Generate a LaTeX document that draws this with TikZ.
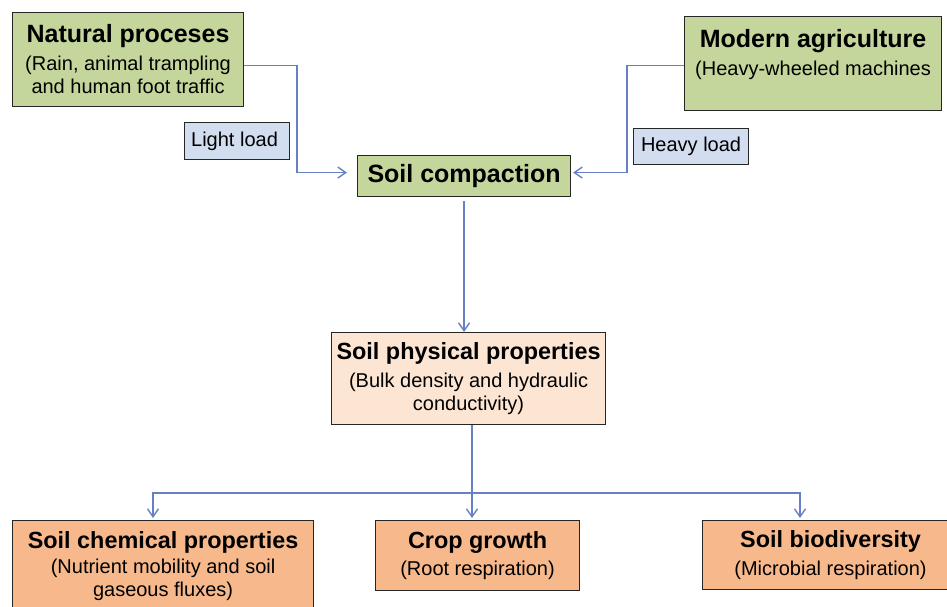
\documentclass[tikz,border=0pt]{standalone}
\usepackage{fontspec}
\setmainfont{Liberation Sans}
\usetikzlibrary{arrows.meta,positioning,calc}
\definecolor{boxgreen}{RGB}{196,214,155}
\definecolor{loadblue}{RGB}{210,221,240}
\definecolor{propbeige}{RGB}{252,229,211}
\definecolor{effectorange}{RGB}{247,185,140}
\definecolor{linkblue}{RGB}{103,128,196}
\newcommand{\hdbig}{\fontsize{25}{28}\selectfont\bfseries}
\newcommand{\hdsmall}{\fontsize{23.4}{27}\selectfont\bfseries}

\begin{document}
\begin{tikzpicture}[x=1pt, y=-1pt,
    box/.style={draw=black!85, line width=1.1pt, anchor=north west, inner sep=0pt,
        align=center, font=\fontsize{20}{22.5}\selectfont},
    cause/.style={box, fill=boxgreen},
    load/.style={box, fill=loadblue},
    prop/.style={box, fill=propbeige},
    effect/.style={box, fill=effectorange},
    connect/.style={draw=linkblue, line width=1.4pt},
    flow/.style={connect, -{Straight Barb[length=8pt, width=11pt]}}]
    \useasboundingbox (0,0) rectangle (947,606);

    % Causes
    \node[cause, minimum width=231pt, minimum height=94pt, text depth=2pt] (natural) at (12,12)
        {\hdbig Natural proceses\\[6pt] (Rain, animal trampling\\ and human foot traffic};
    \node[cause, minimum width=257pt, minimum height=94pt, text depth=22pt] (modern) at (684,16)
        {\hdbig Modern agriculture\\[6pt] (Heavy-wheeled machines};
    \node[load, minimum width=105pt, minimum height=37pt] (light) at (184,122)
        {Light load\hspace{5pt}};
    \node[load, minimum width=115pt, minimum height=36pt] (heavy) at (633,128) {Heavy load};

    % Compaction and soil properties
    \node[cause, minimum width=213pt, minimum height=41pt] (compaction) at (357,155)
        {\hdbig Soil compaction};
    \node[prop, minimum width=274pt, minimum height=92pt] (phys) at (331,332)
        {\hdsmall Soil physical properties\\[6pt] (Bulk density and hydraulic\\ conductivity)};

    % Effects
    \node[effect, minimum width=301pt, minimum height=92pt] (chem) at (12,520)
        {\hdsmall Soil chemical properties\\[2pt] (Nutrient mobility and soil\\[1pt] gaseous fluxes)};
    \node[effect, minimum width=204pt, minimum height=70pt] (crop) at (375,520)
        {\hdsmall Crop growth\\[5pt] (Root respiration)};
    \node[effect, minimum width=256pt, minimum height=69pt] (bio) at (702,520)
        {\hdsmall Soil biodiversity\\[5pt] (Microbial respiration)};

    % Arrows
    \draw[flow, shorten >=10pt] ([yshift=-6pt]natural.east) -- ++(53,0) |- ([yshift=3.5pt]compaction.west);
    \draw[flow, shorten >=2pt] ([yshift=-2pt]modern.west) -- ++(-57,0) |- ([yshift=3.5pt]compaction.east);
    \draw[flow, shorten <=4pt] (compaction.south) -- (compaction.south |- phys.north);

    \coordinate (fork) at (472,493);
    \coordinate (forkL) at (153,493);
    \coordinate (forkR) at (800,493);
    \draw[flow, shorten >=2pt] (phys.south -| fork) -- (fork |- crop.north);
    \draw[flow, shorten >=2pt] (fork) -- (forkL) -- (forkL |- chem.north);
    \draw[flow, shorten >=2pt] (fork) -- (forkR) -- (forkR |- bio.north);
\end{tikzpicture}
\end{document}
